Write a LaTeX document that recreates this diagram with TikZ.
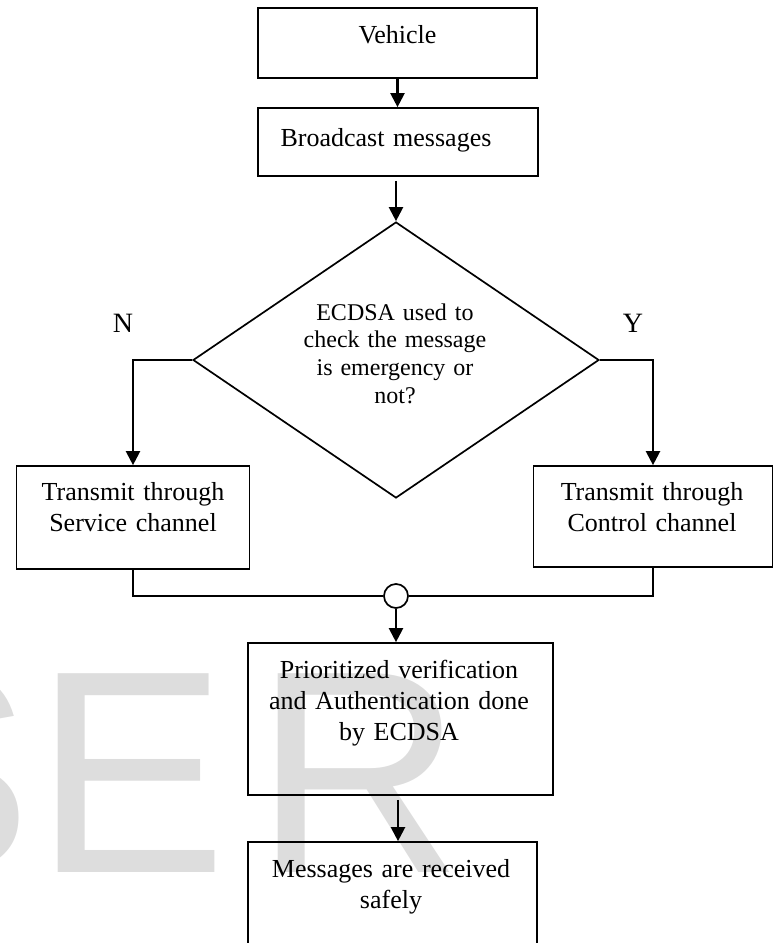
\documentclass[tikz,border=0pt]{standalone}
\usepackage{fontspec}
\setmainfont{Liberation Serif}
\newfontfamily\wmfont{Liberation Sans}
\usetikzlibrary{arrows.meta,shapes.geometric,calc}
\definecolor{wmgray}{RGB}{221,221,221}
\begin{document}
\begin{tikzpicture}[x=1pt,y=-1pt,
  box/.style={draw, line width=1.7pt, rectangle, inner sep=0pt},
  txt/.style={font=\fontsize{26}{31}\selectfont, align=center, anchor=base, inner sep=0pt, text width=320pt},
  dtxt/.style={font=\fontsize{24}{27.7}\selectfont, align=center, anchor=base, inner sep=0pt, text width=240pt},
  yn/.style={font=\fontsize{28}{30}\selectfont, anchor=base, inner sep=0pt},
  conn/.style={line width=2.2pt},
  arr/.style={conn, -{Triangle[length=14pt,width=14pt]}},
  wm/.style={font=\wmfont\fontsize{289}{289}\selectfont, text=wmgray, anchor=base west, inner sep=0pt}]
\useasboundingbox (0,0) rectangle (777,943);
% watermark
\node[wm] (wmS) at (-161,872) {S};
\node[wm] (wmE) at (34,872) {E};
\node[wm] (wmR) at (254,872) {R};
% boxes
\node[box, minimum width=279pt, minimum height=70pt] (veh) at (397.5,43) {};
\node[txt] (vehT) at (397.5,43) {Vehicle};
\node[box, minimum width=280pt, minimum height=68pt] (bc) at (398,142) {};
\node[txt] (bcT) at (386,146) {Broadcast messages};
\node[draw, line width=1.7pt, diamond, inner sep=0pt, minimum width=406pt, minimum height=276pt] (dia) at (396,360) {};
\node[dtxt] (diaT) at (395,320) {ECDSA used to\\check the message\\is emergency or\\not?};
\node[yn] (N) at (123,332) {N};
\node[yn] (Y) at (633,332) {Y};
\node[box, minimum width=233pt, minimum height=103pt] (svc) at (133,517.5) {};
\node[txt] (svcT) at (133,500) {Transmit through\\Service channel};
\node[box, minimum width=239pt, minimum height=101pt] (ctl) at (653,516.5) {};
\node[txt] (ctlT) at (652,500) {Transmit through\\Control channel};
\node[draw, circle, line width=1.7pt, fill=white, minimum size=24pt, inner sep=0pt] (jn) at (396,596) {};
\node[box, minimum width=305pt, minimum height=152pt] (pv) at (400.5,719) {};
\node[txt] (pvT) at (399,678) {Prioritized verification\\and Authentication done\\by ECDSA};
\node[box, minimum width=289pt, minimum height=140pt] (msg) at (392.5,912) {};
\node[txt] (msgT) at (391,877) {Messages are received\\safely};
% connectors
\draw[arr] (veh.south) -- (veh.south |- bc.north);
\draw[arr, shorten <=4pt] (dia.north |- bc.south) -- (dia.north);
\draw[arr] (dia.west) -| (svc.north);
\draw[arr] (dia.east) -| (ctl.north);
\draw[conn] (svc.south) |- (jn.west);
\draw[conn] (ctl.south) |- (jn.east);
\draw[arr] (jn.south) -- (jn.south |- pv.north);
\draw[arr, shorten <=4pt] (pv.south -| 398,0) -- (msg.north -| 398,0);
\end{tikzpicture}
\end{document}
